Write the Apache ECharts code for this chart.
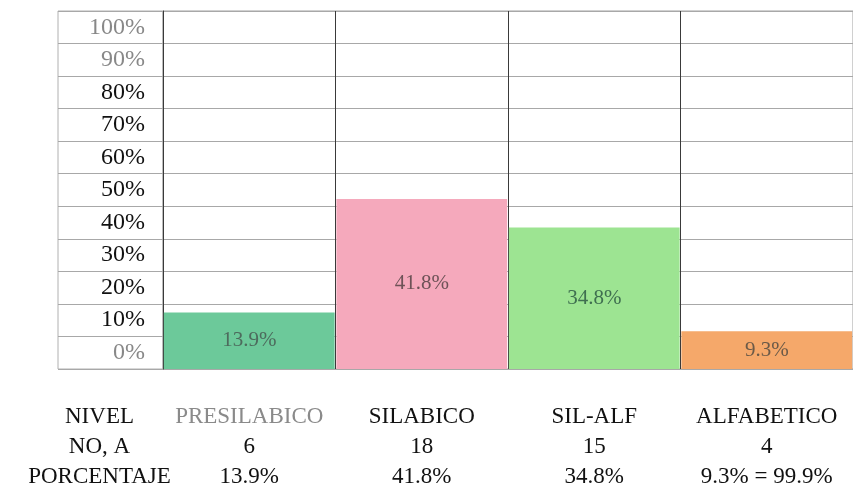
<!DOCTYPE html>
<html>
<head>
<meta charset="utf-8">
<script src="https://cdn.jsdelivr.net/npm/echarts@6/dist/echarts.min.js"></script>
<style>
  html, body { margin: 0; padding: 0; background: #fff; }
  #chart { width: 853px; height: 492px; }
</style>
</head>
<body>
<div id="chart"></div>
<script>
// datos de la grafica
var niveles = ["PRESILABICO", "SILABICO", "SIL-ALF", "ALFABETICO"];
var alumnos = [6, 18, 15, 4];
var porcentajes = [13.9, 41.8, 34.8, 9.3];
var totalTexto = "= 99.9%";
var filas = ["NIVEL", "NO, A", "PORCENTAJE"];
var escala = ["0%", "10%", "20%", "30%", "40%", "50%", "60%", "70%", "80%", "90%", "100%"];

var coloresBarra = ["#6cc99a", "#f5a9bc", "#9de492", "#f5a86a"];
var coloresTexto = ["#4d6b5d", "#6e5257", "#3f6f50", "#6b5a48"];
var fuente = "Liberation Serif";

var myChart = echarts.init(document.getElementById("chart"));

var option = {
  backgroundColor: "#fff",
  animation: false,
  grid: [
    { left: 58, width: 105, top: 11, bottom: 120, show: true, borderColor: "#b0b0b0", borderWidth: 1 },
    { left: 163, right: 0, top: 11, bottom: 120, show: true, borderColor: "#a0a0a0", borderWidth: 1 }
  ],
  xAxis: [
    {
      gridIndex: 0,
      type: "category",
      data: [""],
      axisLine: { show: false },
      axisTick: { show: false },
      axisLabel: {
        margin: 33,
        fontFamily: fuente,
        fontSize: 23,
        color: "#111",
        lineHeight: 30,
        padding: [0, 22, 0, 0],
        formatter: function () {
          return filas.join("\n");
        }
      }
    },
    {
      gridIndex: 1,
      type: "category",
      data: niveles,
      axisLine: { show: false },
      axisTick: { show: false },
      splitLine: { show: true, lineStyle: { color: "#3a3a3a", width: 1 } },
      axisLabel: {
        margin: 33,
        interval: 0,
        fontFamily: fuente,
        fontSize: 23,
        color: "#111",
        lineHeight: 30,
        formatter: function (value, index) {
          var nombre = index === 0 ? "{g|" + value + "}" : "{n|" + value + "}";
          var pct = porcentajes[index] + "%";
          if (index === niveles.length - 1) {
            pct = pct + " " + totalTexto;
          }
          return nombre + "\n{n|" + alumnos[index] + "}\n{n|" + pct + "}";
        },
        rich: {
          n: { fontFamily: fuente, fontSize: 23, color: "#111", lineHeight: 30 },
          g: { fontFamily: fuente, fontSize: 23, color: "#8a8a8a", lineHeight: 30 }
        }
      }
    }
  ],
  yAxis: [
    {
      gridIndex: 0,
      type: "category",
      data: escala,
      position: "right",
      axisLine: { show: false },
      axisTick: { show: false },
      splitLine: { show: true, lineStyle: { color: "#a8a8a8", width: 1 } },
      axisLabel: {
        inside: true,
        margin: 18,
        fontFamily: fuente,
        fontSize: 24,
        padding: [10, 0, 0, 0],
        color: function (value, index) {
          if (value === "0%" || value === "90%" || value === "100%") {
            return "#888";
          }
          return "#111";
        }
      }
    },
    {
      gridIndex: 1,
      type: "category",
      data: escala,
      axisLine: { show: true, lineStyle: { color: "#3a3a3a" } },
      axisTick: { show: false },
      axisLabel: { show: false },
      splitLine: { show: true, lineStyle: { color: "#a8a8a8", width: 1 } }
    },
    {
      gridIndex: 1,
      type: "value",
      min: 0,
      max: 88,
      show: false,
      splitLine: { show: false }
    }
  ],
  series: [
    {
      type: "bar",
      xAxisIndex: 1,
      yAxisIndex: 2,
      barCategoryGap: "1%",
      data: porcentajes.map(function (v, i) {
        return {
          value: v,
          itemStyle: { color: coloresBarra[i] },
          label: { color: coloresTexto[i] }
        };
      }),
      label: {
        show: true,
        position: "inside",
        fontFamily: fuente,
        fontSize: 21,
        formatter: function (p) {
          return p.value + "%";
        }
      }
    }
  ]
};

myChart.setOption(option);
window.addEventListener("resize", function () {
  myChart.resize();
});
</script>
</body>
</html>
